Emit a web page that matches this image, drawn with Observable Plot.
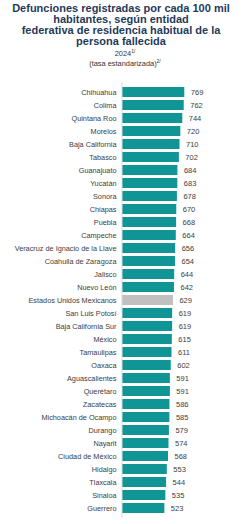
<!DOCTYPE html>
<html>
<head>
<meta charset="utf-8">
<script src="https://cdn.jsdelivr.net/npm/d3@7"></script>
<script src="https://cdn.jsdelivr.net/npm/@observablehq/plot@0.6"></script>
<style>
  html, body { margin: 0; padding: 0; background: #fff; }
  body { width: 250px; font-family: "Liberation Sans", Arial, sans-serif; }
  #title { width: 242px; text-align: center; font-weight: bold; font-size: 11px; line-height: 11px; color: #1f3a5a; padding-top: 3px; }
  #sub { width: 250px; text-align: center; font-size: 7.4px; line-height: 9.5px; color: #333; margin-top: 2px; }
  #sub sup { font-size: 5px; vertical-align: 3px; line-height: 0; }
  #wrap { position: absolute; top: 72px; left: 0; }
</style>
</head>
<body>
<div id="title">Defunciones registradas por cada 100 mil<br>habitantes, según entidad<br>federativa de residencia habitual de la<br>persona fallecida</div>
<div id="sub">2024<sup>1/</sup><br>(tasa estandarizada)<sup>2/</sup></div>
<div id="wrap"></div>
<script>
const states = [
  "Chihuahua","Colima","Quintana Roo","Morelos","Baja California","Tabasco",
  "Guanajuato","Yucatán","Sonora","Chiapas","Puebla","Campeche",
  "Veracruz de Ignacio de la Llave","Coahuila de Zaragoza","Jalisco","Nuevo León",
  "Estados Unidos Mexicanos","San Luis Potosí","Baja California Sur","México",
  "Tamaulipas","Oaxaca","Aguascalientes","Querétaro","Zacatecas",
  "Michoacán de Ocampo","Durango","Nayarit","Ciudad de México","Hidalgo",
  "Tlaxcala","Sinaloa","Guerrero"
];
const values = [
  769,762,744,720,710,702,
  684,683,678,670,668,664,
  656,654,644,642,
  629,619,619,615,
  611,602,591,591,586,
  585,579,574,568,553,
  544,535,523
];
const nationalName = "Estados Unidos Mexicanos";
const data = states.map((s, i) => ({name: s, value: values[i]}));

const chart = Plot.plot({
  width: 250,
  height: 452,
  marginTop: 10,
  marginBottom: 6,
  marginLeft: 122,
  marginRight: 47,
  style: {fontFamily: "'Liberation Sans', Arial, sans-serif", background: "transparent"},
  x: {domain: [0, 1000], axis: null},
  y: {domain: states, padding: 0.24, axis: null},
  marks: [
    Plot.barX(data, {
      y: "name", x: "value",
      fill: d => d.name === nationalName ? "#c0c0c0" : "#0f9596"
    }),
    Plot.ruleX([0], {stroke: "#d9d9d9", strokeWidth: 1, dx: -0.5}),
    Plot.axisY({tickSize: 0, tickPadding: 6, fontSize: 7.3, fill: "#404040", label: null}),
    Plot.text(data, {
      y: "name", x: "value", text: d => String(d.value),
      dx: 6, textAnchor: "start", fontSize: 7.5, fill: "#404040"
    })
  ]
});
document.getElementById("wrap").appendChild(chart);
</script>
</body>
</html>
